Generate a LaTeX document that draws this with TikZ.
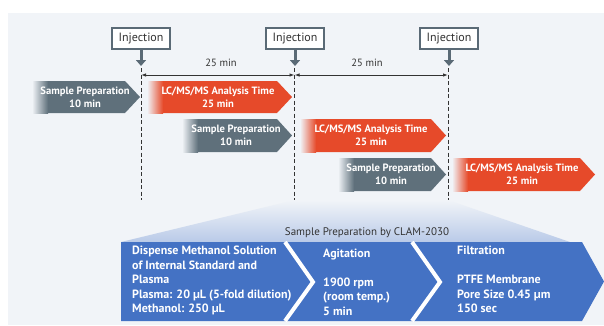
\documentclass[tikz,border=0pt]{standalone}
\usepackage{fontspec}
\setmainfont{PT Sans}
\usetikzlibrary{arrows.meta,shadings}
\definecolor{bgc}{HTML}{F1F4F8}
\definecolor{grayarr}{HTML}{5F707B}
\definecolor{redarr}{HTML}{E64A2A}
\definecolor{bluebar}{HTML}{4472C4}
\definecolor{lightblue}{HTML}{B9CAE8}
\definecolor{boxline}{HTML}{5A6A76}
\definecolor{txt}{HTML}{333333}
\newcommand\timeArrow[5]{%
  \fill[#1] (#2,#4) -- ({#3-15},#4) -- (#3,{(#4+#5)/2}) -- ({#3-15},#5) -- (#2,#5) -- cycle;
  \shade[left color=bgc,right color=#1] (#2,#4) rectangle ({#2+16},#5);}
\begin{document}
\begin{tikzpicture}[x=1pt,y=-1pt,
  injbox/.style={draw=boxline,line width=2.2pt,fill=white,minimum width=58pt,minimum height=21pt,inner sep=0pt,font=\fontsize{12}{14}\selectfont,text=txt},
  downarr/.style={draw=boxline,line width=3pt,-{Triangle[width=10pt,length=6pt]}},
  vdash/.style={draw=black!80,line width=0.8pt,dash pattern=on 4pt off 2.5pt},
  dimline/.style={draw=txt,line width=0.9pt,{Latex[length=5pt,width=3.5pt]}-{Latex[length=5pt,width=3.5pt]}},
  dimtxt/.style={font=\fontsize{10.5}{12}\selectfont,text=txt,inner sep=0pt},
  arrtxt/.style={font=\bfseries\fontsize{10.6}{13}\selectfont,text=white,align=center,inner sep=0pt},
  bartxt/.style={font=\bfseries\fontsize{12}{14.5}\selectfont,text=white,align=left,inner sep=0pt,anchor=north west},
  chev/.style={draw=white,line width=4pt,line join=miter}
]
\useasboundingbox (0,0) rectangle (604,325);
\fill[bgc] (8,13) rectangle (604,325);

% injection boxes
\node[injbox] (inj1) at (141,38.5) {Injection};
\node[injbox] (inj2) at (295,38.5) {Injection};
\node[injbox] (inj3) at (449,38.5) {Injection};
\coordinate (a1) at (141,66);
\coordinate (a2) at (295,66);
\coordinate (a3) at (449,66);
\draw[downarr] (inj1.south) -- (a1);
\draw[downarr] (inj2.south) -- (a2);
\draw[downarr] (inj3.south) -- (a3);

% dashed lines
\coordinate (d1t) at (141,68); \coordinate (d1b) at (141,200);
\coordinate (d2t) at (294.5,68); \coordinate (d2b) at (294.5,200);
\coordinate (d3t) at (448,68); \coordinate (d3b) at (448,200);

% trapezoid
\shade[top color=bgc,bottom color=lightblue] (d2b) -- (d3b) -- (570,242) -- (121,242) -- cycle;

\draw[vdash] (d1t) -- (d1b);
\draw[vdash] (d2t) -- (d2b);
\draw[vdash] (d3t) -- (d3b);

% dimension lines
\coordinate (m1) at (141,75); \coordinate (m2) at (294.5,75); \coordinate (m3) at (448,75);
\draw[dimline] (m1) -- (m2);
\draw[dimline] (m2) -- (m3);
\node[dimtxt] (t1) at (221,63) {25 min};
\node[dimtxt] (t2) at (367,63) {25 min};

% time arrows
\timeArrow{grayarr}{32}{140}{81}{113}
\timeArrow{redarr}{147}{292}{81}{113}
\timeArrow{grayarr}{182}{292}{119}{152}
\timeArrow{redarr}{300}{446}{119}{152}
\timeArrow{grayarr}{338}{446}{158}{191}
\timeArrow{redarr}{452}{595}{158}{191}
\node[arrtxt] (s1) at (85,97) {Sample Preparation\\10 min};
\node[arrtxt] (r1) at (218,97) {LC/MS/MS Analysis Time\\25 min};
\node[arrtxt] (s2) at (236,135.5) {Sample Preparation\\10 min};
\node[arrtxt] (r2) at (371,135.5) {LC/MS/MS Analysis Time\\25 min};
\node[arrtxt] (s3) at (391,174.5) {Sample Preparation\\10 min};
\node[arrtxt] (r3) at (522,174.5) {LC/MS/MS Analysis Time\\25 min};

% banner
\node[font=\fontsize{11}{13}\selectfont,text=txt,inner sep=0pt] (title) at (367,233) {Sample Preparation by CLAM-2030};
\fill[bluebar] (121,242) -- (582,242) -- (604,281.5) -- (582,321) -- (121,321) -- cycle;
\draw[chev] (285,242) -- (313,282) -- (285,321);
\draw[chev] (412,242) -- (440,282) -- (412,321);
\node[bartxt] (b1) at (132,246) {Dispense Methanol Solution\\of Internal Standard and\\Plasma\\Plasma: 20 µL (5-fold dilution)\\Methanol: 250 µL};
\node[bartxt] (b2) at (323,248.5) {Agitation\\[14.5pt]1900 rpm\\(room temp.)\\5 min};
\node[bartxt] (b3) at (457,246) {Filtration\\[14.5pt]PTFE Membrane\\Pore Size 0.45 µm\\150 sec};
\end{tikzpicture}
\end{document}
